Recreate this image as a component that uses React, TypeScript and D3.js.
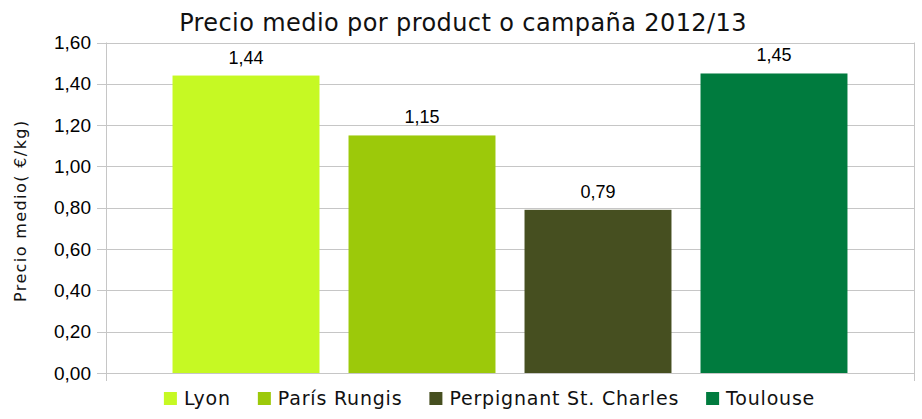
import React, { useEffect, useRef } from 'react';
import * as d3 from 'd3';

const categories = ['Lyon', 'París Rungis', 'Perpignant St. Charles', 'Toulouse'];
const values = [1.44, 1.15, 0.79, 1.45];
const colors = ['#c6f923', '#9cc90a', '#464f20', '#007b3e'];
const yTicks = [0, 0.2, 0.4, 0.6, 0.8, 1.0, 1.2, 1.4, 1.6];

const W = 922;
const H = 419;

const fmt = (v: number) => d3.format('.2f')(v).replace('.', ',');

export default function App() {
  const svgRef = useRef<SVGSVGElement>(null);

  useEffect(() => {
    if (!svgRef.current) return;
    const margin = { top: 42.5, right: 8, bottom: 46, left: 106 };
    const x0 = margin.left;
    const x1 = W - margin.right;
    const y0 = H - margin.bottom;

    d3.select(svgRef.current).selectAll('*').remove();
    const svg = d3.select(svgRef.current);

    const x = d3.scaleBand<string>()
      .domain(categories)
      .range([x0, x1])
      .paddingInner(0.165)
      .paddingOuter(0.378);

    const y = d3.scaleLinear().domain([0, 1.6]).range([y0, margin.top]);

    // gridlines
    svg.append('g')
      .selectAll('line')
      .data(yTicks)
      .enter()
      .append('line')
      .attr('x1', x0 - 9)
      .attr('x2', x1)
      .attr('y1', d => Math.round(y(d)) + 0.5)
      .attr('y2', d => Math.round(y(d)) + 0.5)
      .attr('stroke', '#c6c6c6')
      .attr('stroke-width', 1);

    // frame sides
    svg.append('line')
      .attr('x1', x0 + 0.5).attr('x2', x0 + 0.5)
      .attr('y1', margin.top).attr('y2', y0 + 8)
      .attr('stroke', '#c6c6c6');
    svg.append('line')
      .attr('x1', x1 + 0.5).attr('x2', x1 + 0.5)
      .attr('y1', margin.top).attr('y2', y0 + 8)
      .attr('stroke', '#c6c6c6');

    // tick labels
    svg.append('g')
      .selectAll('text')
      .data(yTicks)
      .enter()
      .append('text')
      .attr('x', x0 - 15)
      .attr('y', d => y(d))
      .attr('dy', '0.35em')
      .attr('text-anchor', 'end')
      .style('font-family', '"Liberation Sans", Arial, sans-serif')
      .style('font-size', '19px')
      .attr('fill', '#000')
      .text(d => fmt(d));

    // bars
    svg.append('g')
      .selectAll('rect')
      .data(values)
      .enter()
      .append('rect')
      .attr('x', (d, i) => x(categories[i]) as number)
      .attr('y', d => y(d))
      .attr('width', x.bandwidth())
      .attr('height', d => y0 - y(d))
      .attr('fill', (d, i) => colors[i]);

    // value labels
    svg.append('g')
      .selectAll('text')
      .data(values)
      .enter()
      .append('text')
      .attr('x', (d, i) => (x(categories[i]) as number) + x.bandwidth() / 2)
      .attr('y', d => y(d) - 12)
      .attr('text-anchor', 'middle')
      .style('font-family', '"Liberation Sans", Arial, sans-serif')
      .style('font-size', '18px')
      .attr('fill', '#000')
      .text(d => fmt(d));

    // title
    svg.append('text')
      .attr('x', 463)
      .attr('y', 31)
      .attr('text-anchor', 'middle')
      .style('font-family', '"DejaVu Sans", sans-serif')
      .style('font-size', '24px')
      .style('letter-spacing', '0.4px')
      .attr('fill', '#111')
      .text('Precio medio por product o campaña 2012/13');

    // y axis title
    svg.append('text')
      .attr('transform', `translate(26,${(margin.top + y0) / 2 + 3}) rotate(-90)`)
      .attr('text-anchor', 'middle')
      .style('font-family', '"DejaVu Sans", sans-serif')
      .style('font-size', '16px')
      .style('letter-spacing', '1.4px')
      .attr('fill', '#111')
      .text('Precio medio( €/kg)');

    // legend
    const legend = svg.append('g');
    const items = legend.selectAll('g')
      .data(categories)
      .enter()
      .append('g');
    items.append('rect')
      .attr('width', 13)
      .attr('height', 13)
      .attr('y', -13)
      .attr('fill', (d, i) => colors[i]);
    items.append('text')
      .attr('x', 20)
      .attr('y', 0)
      .style('font-family', '"DejaVu Sans", sans-serif')
      .style('font-size', '19px')
      .style('letter-spacing', '0.8px')
      .attr('fill', '#111')
      .text(d => d);

    const widths: number[] = [];
    items.each(function () {
      const t = (this as SVGGElement).querySelector('text') as SVGTextElement;
      widths.push(20 + t.getComputedTextLength());
    });
    const gap = 27;
    const total = d3.sum(widths) + gap * (widths.length - 1);
    let cx = 489.5 - total / 2;
    items.attr('transform', (d, i) => {
      const tx = cx;
      cx += widths[i] + gap;
      return `translate(${tx},405)`;
    });
  }, []);

  return (
    <svg ref={svgRef} width={W} height={H} style={{ position: 'absolute', left: 0, top: 0, background: '#fff' }} />
  );
}
